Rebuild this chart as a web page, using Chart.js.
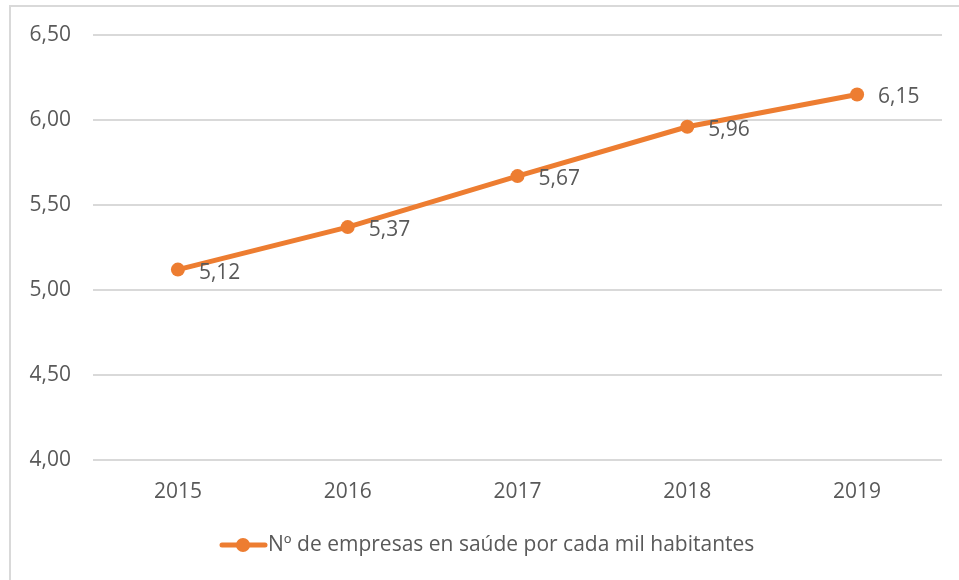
<!DOCTYPE html>
<html>
<head>
<meta charset="utf-8">
<script src="https://cdn.jsdelivr.net/npm/chart.js@4"></script>
<style>
  html, body { margin: 0; padding: 0; background: #fff; }
  #wrap { width: 959px; height: 580px; position: relative; }
</style>
</head>
<body>
<div id="wrap"><canvas id="chart" width="959" height="580"></canvas></div>
<script>
const years = ['2015', '2016', '2017', '2018', '2019'];
const companies = [5.12, 5.37, 5.67, 5.96, 6.15];
const seriesName = 'Nº de empresas en saúde por cada mil habitantes';

const orange = '#ED7D31';
const textColor = '#595959';
const fontFamily = '"Open Sans", "Noto Sans", sans-serif';
const fontSize = 21;

const fmt = v => v.toFixed(2).replace('.', ',');

// frame, data labels and legend drawn by hand
const extras = {
  id: 'extras',
  beforeDraw(chart) {
    const c = chart.ctx;
    c.save();
    c.fillStyle = '#fff';
    c.fillRect(0, 0, chart.width, chart.height);
    c.strokeStyle = '#d9d9d9';
    c.lineWidth = 2;
    c.strokeRect(10, 6, 960, 590);
    c.restore();
  },
  afterDatasetsDraw(chart) {
    const c = chart.ctx;
    const meta = chart.getDatasetMeta(0);
    c.save();
    c.font = fontSize + 'px ' + fontFamily;
    c.fillStyle = textColor;
    c.textAlign = 'left';
    c.textBaseline = 'middle';
    meta.data.forEach((pt, i) => {
      c.fillText(fmt(companies[i]), pt.x + 21, pt.y + 3);
    });
    c.restore();
  },
  afterDraw(chart) {
    const c = chart.ctx;
    const y = 545;
    c.save();
    c.strokeStyle = orange;
    c.lineWidth = 5;
    c.lineCap = 'round';
    c.beginPath();
    c.moveTo(222, y);
    c.lineTo(265, y);
    c.stroke();
    c.fillStyle = orange;
    c.beginPath();
    c.arc(243, y, 7, 0, Math.PI * 2);
    c.fill();
    c.font = fontSize + 'px ' + fontFamily;
    c.fillStyle = textColor;
    c.textBaseline = 'middle';
    c.fillText(seriesName, 268, y);
    c.restore();
  }
};

new Chart(document.getElementById('chart'), {
  type: 'line',
  data: {
    labels: years,
    datasets: [{
      label: seriesName,
      data: companies,
      borderColor: orange,
      backgroundColor: orange,
      borderWidth: 5,
      pointRadius: 7,
      pointHoverRadius: 7,
      pointBorderWidth: 0,
      tension: 0
    }]
  },
  options: {
    responsive: false,
    animation: false,
    layout: { padding: { top: 35, right: 17, left: 0, bottom: 0 } },
    plugins: {
      legend: { display: false },
      tooltip: { enabled: false }
    },
    scales: {
      x: {
        offset: true,
        grid: { display: false, drawTicks: false },
        border: { display: false },
        ticks: { color: textColor, font: { family: fontFamily, size: fontSize }, padding: 19 },
        afterFit(scale) { scale.height = 120; }
      },
      y: {
        min: 4,
        max: 6.5,
        ticks: {
          stepSize: 0.5,
          color: textColor,
          font: { family: fontFamily, size: fontSize },
          padding: 22,
          callback: v => fmt(v)
        },
        grid: { color: '#d9d9d9', lineWidth: 2, drawTicks: false },
        border: { display: false },
        afterFit(scale) { scale.width = 93; }
      }
    }
  },
  plugins: [extras]
});
</script>
</body>
</html>
